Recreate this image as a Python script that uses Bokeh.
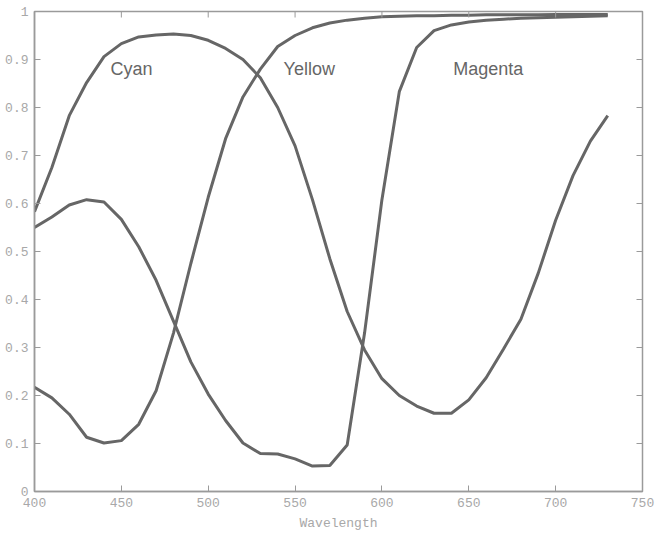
import math
from bokeh.plotting import figure
from bokeh.models import FixedTicker, Range1d
from bokeh.core.properties import value
from bokeh.embed import file_html
from bokeh.resources import INLINE

wavelength = list(range(400, 740, 10))

cyan = [0.583, 0.675, 0.783, 0.852, 0.906, 0.933, 0.947, 0.951, 0.953, 0.950,
        0.940, 0.923, 0.900, 0.862, 0.800, 0.720, 0.608, 0.485, 0.375, 0.295,
        0.235, 0.200, 0.178, 0.163, 0.163, 0.191, 0.237, 0.297, 0.359, 0.455,
        0.565, 0.658, 0.730, 0.783]

magenta = [0.550, 0.572, 0.597, 0.608, 0.603, 0.567, 0.510, 0.440, 0.355, 0.270,
           0.203, 0.148, 0.101, 0.079, 0.078, 0.068, 0.053, 0.054, 0.097, 0.330,
           0.608, 0.833, 0.925, 0.960, 0.972, 0.978, 0.982, 0.984, 0.986, 0.987,
           0.988, 0.989, 0.990, 0.991]

yellow = [0.217, 0.195, 0.161, 0.113, 0.101, 0.106, 0.140, 0.210, 0.330, 0.475,
          0.613, 0.735, 0.822, 0.880, 0.927, 0.950, 0.966, 0.976, 0.982, 0.986,
          0.989, 0.990, 0.991, 0.991, 0.992, 0.992, 0.993, 0.993, 0.993, 0.993,
          0.994, 0.994, 0.994, 0.994]

label_names = ["Cyan", "Yellow", "Magenta"]
label_x = [443.8, 543.4, 641.0]
label_y = [0.88, 0.88, 0.88]

x_ticks = [400, 450, 500, 550, 600, 650, 700, 750]
y_ticks = [0, 0.1, 0.2, 0.3, 0.4, 0.5, 0.6, 0.7, 0.8, 0.9, 1]
y_tick_labels = ["0", "0.1", "0.2", "0.3", "0.4", "0.5", "0.6", "0.7", "0.8", "0.9", "1"]

LINE = "#666666"
AXIS = "#9a9a9a"
TICKTXT = "#a8a8a8"

p = figure(width=655, height=533, output_backend="svg", toolbar_location=None,
           x_range=Range1d(400, 750), y_range=Range1d(0, 1),
           min_border_left=34, min_border_right=13, min_border_top=11, min_border_bottom=42,
           x_axis_label="Wavelength")
p.grid.visible = False
p.outline_line_color = AXIS
p.outline_line_width = 1.5
p.background_fill_color = "white"
p.border_fill_color = "white"

for ys in (cyan, magenta, yellow):
    p.line(wavelength, ys, line_color=LINE, line_width=3)

p.text(x=label_x, y=label_y, text=label_names, text_font=value("Liberation Sans"),
       text_font_size="18px", text_color=LINE, text_align="left", text_baseline="middle")

# inward tick marks on the top and right edges of the box
p.ray(x=x_ticks, y=[y_ticks[-1]] * len(x_ticks), length=6, length_units="screen",
      angle=-math.pi / 2, line_color=AXIS, line_width=1)
p.ray(x=[x_ticks[-1]] * len(y_ticks), y=y_ticks, length=6, length_units="screen",
      angle=math.pi, line_color=AXIS, line_width=1)

def style(ax):
    ax.axis_line_color = AXIS
    ax.axis_line_width = 1.5
    ax.major_tick_line_color = AXIS
    ax.major_tick_in = 6
    ax.major_tick_out = 0
    ax.minor_tick_line_color = None
    ax.major_label_text_font = "Liberation Mono"
    ax.major_label_text_font_size = "13px"
    ax.major_label_text_color = TICKTXT
    ax.axis_label_text_font = "Liberation Mono"
    ax.axis_label_text_font_size = "13px"
    ax.axis_label_text_font_style = "normal"
    ax.axis_label_text_color = TICKTXT

xa = p.xaxis[0]
style(xa)
xa.ticker = FixedTicker(ticks=x_ticks)
xa.major_label_standoff = 6
xa.axis_label_standoff = 6

ya = p.yaxis[0]
style(ya)
ya.ticker = FixedTicker(ticks=y_ticks)
ya.major_label_overrides = dict(zip(y_ticks, y_tick_labels))
ya.major_label_standoff = 6

open("out.html", "w").write(file_html(p, INLINE))
